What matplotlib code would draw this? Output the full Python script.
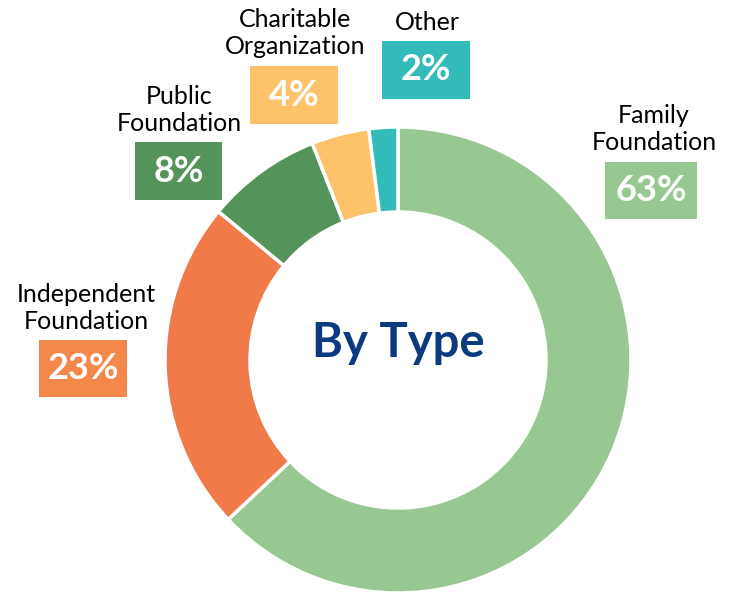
import matplotlib
matplotlib.use("Agg")
import matplotlib.pyplot as plt
from matplotlib.patches import Rectangle

categories = ["Family\nFoundation", "Independent\nFoundation", "Public\nFoundation",
              "Charitable\nOrganization", "Other"]
values = [63, 23, 8, 4, 2]
pct_labels = ["63%", "23%", "8%", "4%", "2%"]
colors = ["#98C891", "#F07B48", "#549359", "#FDC26A", "#33BBBA"]
box_colors = ["#98C891", "#F4884A", "#549359", "#FDC26A", "#33BBBA"]

W, H = 731, 594
fig = plt.figure(figsize=(W / 100, H / 100), dpi=100)
ax = fig.add_axes([0, 0, 1, 1])

cx, cy = 398, H - 360
R = 233
ax.pie(values, colors=colors, startangle=90, counterclock=False,
       center=(cx, cy), radius=R, frame=True,
       wedgeprops=dict(width=85, edgecolor="white", linewidth=2.5))
ax.set_xlim(0, W)
ax.set_ylim(0, H)
ax.set_aspect("equal")
ax.axis("off")

ax.text(cx, H - 343, "By Type", ha="center", va="center", fontsize=34,
        fontweight="bold", color="#0B3A7E", family="Lato")

# label layout (pixel coordinates, top-left origin)
label_pos = [(654, 129), (86, 308), (179, 110), (295, 33), (427, 22)]
box_pos = [(605, 162, 92, 57), (39, 340, 88, 57), (135, 142, 87, 58),
           (250, 66, 88, 58), (382, 41, 88, 58)]

for cat, pct, bc, (lx, ly), (bx, by, bw, bh) in zip(categories, pct_labels, box_colors,
                                                    label_pos, box_pos):
    ax.text(lx, H - ly, cat, ha="center", va="center", fontsize=18,
            color="black", family="Lato", linespacing=1.2)
    ax.add_patch(Rectangle((bx, H - by - bh), bw, bh, facecolor=bc, edgecolor="none"))
    ax.text(bx + bw / 2, H - by - bh / 2, pct, ha="center", va="center",
            fontsize=26, fontweight="bold", color="white", family="Lato")

fig.savefig("out.png", dpi=100)
